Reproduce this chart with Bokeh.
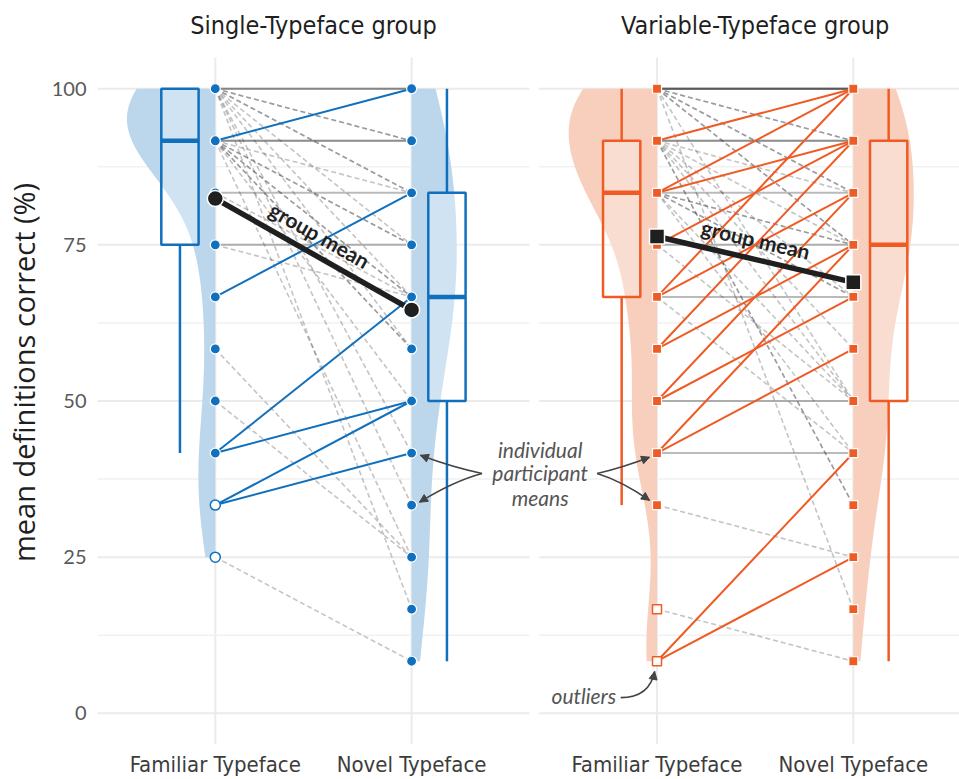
import numpy as np
from bokeh.plotting import figure
from bokeh.models import FixedTicker, Arrow, NormalHead, Range1d
from bokeh.core.properties import value
from bokeh.embed import file_html
from bokeh.resources import INLINE

ITEMS = 12  # definitions tested per condition

# Each participant's score (definitions correct out of 12); position i of the
# familiar list pairs with position i of the novel list.
single_familiar = [11, 8, 5, 5, 4, 4,
                   12, 12, 11, 11, 10, 9,
                   12, 12, 12, 12, 12, 12, 12, 12, 12, 12,
                   11, 11, 11, 11, 11, 11, 11, 11, 11,
                   10, 9, 7, 6, 3]
single_novel = [12, 10, 8, 6, 6, 5,
                12, 12, 11, 11, 10, 9,
                11, 11, 10, 10, 9, 8, 7, 5, 4, 2,
                10, 9, 9, 8, 8, 7, 7, 6, 3,
                8, 8, 3, 3, 1]

variable_familiar = [12, 12, 12, 12, 12, 12, 12, 12, 12, 12, 12, 12,
                     11, 11, 11, 11, 11, 11, 11, 11, 11, 11,
                     10, 10, 10, 10, 10, 10, 10, 10, 10,
                     9, 9, 9, 8, 8, 8, 8, 7, 7, 6, 6, 6, 5, 5, 5, 4, 2, 1, 1]
variable_novel = [12, 12, 12, 12, 11, 11, 10, 10, 9, 9, 6, 2,
                  12, 11, 11, 10, 9, 8, 7, 6, 4, 4,
                  12, 11, 10, 9, 9, 8, 8, 6, 5,
                  11, 9, 6, 12, 10, 8, 5, 11, 9, 10, 8, 6, 9, 7, 5, 3, 1, 5, 3]

group_titles = ["Single-Typeface group", "Variable-Typeface group"]
conditions = ["Familiar Typeface", "Novel Typeface"]
y_ticks = [0, 25, 50, 75, 100]
y_minor = [12.5, 37.5, 62.5, 87.5]

BLUE, BLUE_LIGHT = "#1170bd", "#bcd7ec"
ORANGE, ORANGE_LIGHT = "#ef5b25", "#f8cfbd"
GRID = "#ebebeb"
INK = "#1f1f1f"
NOTE = "#555555"

# ---- frame geometry ----
W, H = 959, 779
FRAME_L, PANEL_T, FRAME_B = 94, 57, 744
PX_PER_X = 197.0
X0 = 0.4
Y_LO, Y_HI = -5, 105
PX_PER_Y = (FRAME_B - PANEL_T) / (Y_HI - Y_LO)
Y_TOP = Y_HI + PANEL_T / PX_PER_Y      # frame reaches the top edge; titles live there
PANEL_SHIFT = 2.25                     # second panel sits this far to the right

SANS = "Lato"
WIDE = "Open Sans"
NARROW = "DejaVu Sans Condensed, Roboto Condensed, Roboto"


def kde(vals, n=512):
    v = np.asarray(vals, float)
    sd = v.std(ddof=1)
    q75, q25 = np.percentile(v, [75, 25])
    bw = 0.9 * min(sd, (q75 - q25) / 1.34) * len(v) ** -0.2
    grid = np.linspace(v.min(), v.max(), n)
    dens = np.exp(-0.5 * ((grid[:, None] - v[None, :]) / bw) ** 2).sum(1)
    return grid, dens / (len(v) * bw * np.sqrt(2 * np.pi))


def box_stats(vals):
    v = np.asarray(vals, float)
    q1, med, q3 = np.percentile(v, [25, 50, 75])
    iqr = q3 - q1
    lo = v[v >= q1 - 1.5 * iqr].min()
    hi = v[v <= q3 + 1.5 * iqr].max()
    return q1, med, q3, lo, hi


p = figure(width=W, height=H,
           x_range=Range1d(X0, X0 + (W - FRAME_L) / PX_PER_X),
           y_range=Range1d(Y_LO, Y_TOP),
           output_backend="svg", toolbar_location=None,
           min_border_left=FRAME_L, min_border_right=0,
           min_border_top=0, min_border_bottom=H - FRAME_B)
p.outline_line_color = None
p.background_fill_color = "white"
p.border_fill_color = "white"

x_ticks = [1, 2, 1 + PANEL_SHIFT, 2 + PANEL_SHIFT]
p.xaxis.ticker = FixedTicker(ticks=x_ticks)
p.xaxis.major_label_overrides = {t: conditions[i % 2] for i, t in enumerate(x_ticks)}
p.xaxis.axis_line_color = None
p.xaxis.major_tick_line_color = None
p.xaxis.minor_tick_line_color = None
p.xaxis.major_tick_out = 0
p.xaxis.major_tick_in = 0
p.xaxis.major_label_standoff = 7
p.xaxis.major_label_text_font = NARROW
p.xaxis.major_label_text_font_size = "22px"
p.xaxis.major_label_text_color = "#3c3c3c"

p.yaxis.ticker = FixedTicker(ticks=y_ticks)
p.yaxis.axis_line_color = None
p.yaxis.major_tick_line_color = None
p.yaxis.minor_tick_line_color = None
p.yaxis.major_tick_out = 0
p.yaxis.major_tick_in = 0
p.yaxis.major_label_standoff = 11
p.yaxis.major_label_text_font = SANS
p.yaxis.major_label_text_font_size = "20px"
p.yaxis.major_label_text_color = "#595959"
p.yaxis.axis_label = "mean definitions correct (%)"
p.yaxis.axis_label_text_font = WIDE
p.yaxis.axis_label_text_font_style = "normal"
p.yaxis.axis_label_text_font_size = "29px"
p.yaxis.axis_label_text_color = INK
p.yaxis.axis_label_standoff = 6

p.xgrid.visible = False
p.ygrid.visible = False

# vertical grid at each condition, spanning the panel height only
p.segment(x0=x_ticks, y0=[Y_LO] * 4, x1=x_ticks, y1=[Y_HI] * 4,
          line_color=GRID, line_width=2)

groups = [(single_familiar, single_novel, BLUE, BLUE_LIGHT, "circle", 10, 16),
          (variable_familiar, variable_novel, ORANGE, ORANGE_LIGHT, "square", 9, 15)]

for gi, (fam_raw, nov_raw, col, col_light, marker, msize, mean_size) in enumerate(groups):
    shift = gi * PANEL_SHIFT
    xf, xn = 1 + shift, 2 + shift
    fam = np.array(fam_raw) / ITEMS * 100
    nov = np.array(nov_raw) / ITEMS * 100

    # horizontal grid for this panel
    gx0, gx1 = X0 + shift, X0 + 2.2 + shift
    p.segment(x0=[gx0] * len(y_minor), y0=y_minor, x1=[gx1] * len(y_minor), y1=y_minor,
              line_color="#f1f1f1", line_width=1.5)
    p.segment(x0=[gx0] * len(y_ticks), y0=y_ticks, x1=[gx1] * len(y_ticks), y1=y_ticks,
              line_color=GRID, line_width=2)

    # half violins, area-scaled within the panel
    gf, df = kde(fam)
    gn, dn = kde(nov)
    top = max(df.max(), dn.max())
    wf, wn = df / top * 0.45, dn / top * 0.45
    p.patch(np.concatenate([xf - wf, [xf, xf]]), np.concatenate([gf, [gf[-1], gf[0]]]),
            fill_color=col_light, line_color=None)
    p.patch(np.concatenate([xn + wn, [xn, xn]]), np.concatenate([gn, [gn[-1], gn[0]]]),
            fill_color=col_light, line_color=None)

    # box plots beside each condition
    for vals, xc in ((fam, xf - 0.18), (nov, xn + 0.18)):
        q1, med, q3, lo, hi = box_stats(vals)
        half = 0.095
        p.segment(x0=[xc, xc], y0=[q3, q1], x1=[xc, xc], y1=[hi, lo],
                  line_color=col, line_width=2.5)
        p.quad(left=xc - half, right=xc + half, bottom=q1, top=q3,
               fill_color="white", fill_alpha=0.3, line_color=col, line_width=2.5)
        p.segment(x0=xc - half, y0=med, x1=xc + half, y1=med, line_color=col, line_width=4.5)

    # participant lines: declines dashed, ties grey, gains coloured
    down = nov < fam
    same = nov == fam
    up = nov > fam
    p.segment(x0=[xf] * down.sum(), y0=fam[down], x1=[xn] * down.sum(), y1=nov[down],
              line_color="#3a3a3a", line_alpha=0.3, line_width=1.6, line_dash="5 3")
    p.segment(x0=[xf] * same.sum(), y0=fam[same], x1=[xn] * same.sum(), y1=nov[same],
              line_color="#3a3a3a", line_alpha=0.35, line_width=2)
    p.segment(x0=[xf] * up.sum(), y0=fam[up], x1=[xn] * up.sum(), y1=nov[up],
              line_color=col, line_width=2)

    # participant points (outliers hollow)
    for vals, xc in ((fam, xf), (nov, xn)):
        q1, med, q3, lo, hi = box_stats(vals)
        lv = np.unique(vals)
        inside = lv[(lv >= lo) & (lv <= hi)]
        outside = lv[(lv < lo) | (lv > hi)]
        p.scatter(x=[xc] * len(inside), y=inside, marker=marker, size=msize,
                  fill_color=col, line_color="white", line_width=1.2)
        if len(outside):
            p.scatter(x=[xc] * len(outside), y=outside, marker=marker, size=msize,
                      fill_color="white", line_color=col, line_width=1.5)

    # group means
    mf, mn = fam.mean(), nov.mean()
    p.line([xf, xn], [mf, mn], line_color=INK, line_width=5.5)
    p.scatter(x=[xf, xn], y=[mf, mn], marker=marker, size=mean_size,
              fill_color=INK, line_color="white", line_width=1.5)

    # "group mean" label running along the line
    dxp, dyp = PX_PER_X * (xn - xf), PX_PER_Y * (mf - mn)
    L = np.hypot(dxp, dyp)
    ux, uy = dxp / L, dyp / L          # along the line (screen, y down)
    nx, ny = uy, -ux                   # upward normal (screen, y down)
    ox, oy = nx * 20 - ux * 4, ny * 20 - uy * 4
    tx = (xf + xn) / 2 + ox / PX_PER_X
    ty = (mf + mn) / 2 - oy / PX_PER_Y
    p.text(x=[tx], y=[ty], text=["group mean"], angle=-np.arctan2(dyp, dxp),
           text_font=value(SANS), text_font_style="bold", text_font_size="21px",
           text_color=INK, text_align="center", text_baseline="middle")

    # panel title above the panel
    p.text(x=[(xf + xn) / 2], y=[Y_HI + (PANEL_T - 25) / PX_PER_Y], text=[group_titles[gi]],
           text_font=value(NARROW), text_font_size="25px", text_color=INK,
           text_align="center", text_baseline="middle")

# ---- annotations ----
note_x = 2.655
for txt, ty in (("individual", 42.2), ("participant", 38.5), ("means", 34.5)):
    p.text(x=[note_x], y=[ty], text=[txt], text_font=value(SANS), text_font_style="italic",
           text_font_size="21px", text_color=NOTE, text_align="center", text_baseline="middle")
p.text(x=[2.877], y=[2.8], text=["outliers"], text_font=value(SANS), text_font_style="italic",
       text_font_size="21px", text_color=NOTE, text_align="center", text_baseline="middle")

# curved pointers: (start x, start y, end x, end y, control x, control y)
pointers = [
    (2.359, 38.4, 2.045, 41.3, 2.215, 39.3),
    (2.359, 38.4, 2.040, 33.8, 2.215, 37.2),
    (2.945, 38.4, 3.212, 41.0, 3.070, 39.3),
    (2.945, 38.4, 3.212, 34.1, 3.070, 37.2),
    (3.065, 2.5, 3.238, 6.7, 3.212, 2.5),
]
for sx, sy, ex, ey, cx, cy in pointers:
    p.quadratic(x0=[sx], y0=[sy], x1=[ex], y1=[ey], cx=[cx], cy=[cy],
                line_color="#444444", line_width=1.6)
    bx, by = ex - 0.08 * (ex - cx), ey - 0.08 * (ey - cy)
    p.add_layout(Arrow(x_start=bx, y_start=by, x_end=ex, y_end=ey, line_color="#444444",
                       line_width=1.6,
                       end=NormalHead(size=8, fill_color="#444444", line_color="#444444")))

open("out.html", "w").write(file_html(p, INLINE))
